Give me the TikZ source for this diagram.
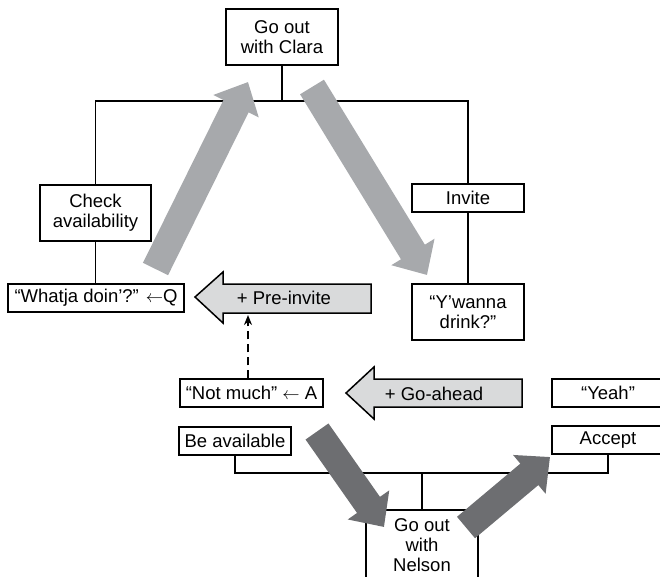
\documentclass[tikz,border=0pt]{standalone}
\usepackage{fontspec}
\setmainfont{Liberation Sans}
\usetikzlibrary{arrows.meta}

\definecolor{lightarrow}{HTML}{A7A9AC}
\definecolor{darkarrow}{HTML}{6D6E71}
\definecolor{blockfill}{HTML}{D9DADB}

\tikzset{
  box/.style={draw, line width=1.5pt, inner sep=0pt, align=center,
    minimum width=112pt, minimum height=28pt},
  tall/.style={box, minimum height=56pt},
  tree/.style={line width=1.5pt},
  bigarrow/.style={line width=28pt, -{Triangle[length=27pt,width=49pt]}},
  blockarrow/.style={fill=blockfill, draw, line width=1.5pt, line join=miter}
}

\begin{document}
\begin{tikzpicture}[x=1pt, y=-1pt, font=\fontsize{18.5}{20}\selectfont]
  \useasboundingbox (0,0) rectangle (660,576);
  \clip (0,0) rectangle (660,576);

  % upper tree
  \node[tall] (clara) at (282,37) {Go out\\with Clara};
  \node[tall, minimum width=111pt] (check) at (95.5,213) {Check\\availability};
  \node[box, minimum width=176pt] (whatja) at (96,298) {“Whatja doin’?” $\leftarrow$Q};
  \node[box] (invite) at (468,198) {Invite};
  \node[tall] (ywanna) at (468,312) {“Y’wanna\\drink?”};
  \coordinate (top) at (282,101);
  \draw[tree] (clara.south) -- (top);
  \draw[tree] (check.north) |- (top) -| (invite.north);
  \draw[tree] (check.south) -- (check.south |- whatja.north);
  \draw[tree] (invite.south) -- (ywanna.north);

  % lower tree
  \node[box, minimum width=143pt] (notmuch) at (251.5,393) {“Not much” $\leftarrow$ A};
  \node[box] (beavail) at (235,441) {Be available};
  \node[box] (yeah) at (608,393) {“Yeah”};
  \node[box] (accept) at (608,440) {Accept};
  \node[box, minimum height=70pt] (nelson) at (422,545) {Go out\\with\\Nelson};
  \coordinate (bot) at (422,473);
  \draw[tree] (nelson.north) -- (bot);
  \draw[tree] (beavail.south) |- (bot) -| (accept.south);

  % block arrows
  \filldraw[blockarrow] (195,297) -- (223,272) -- (223,284) -- (371,284) -- (371,313)
    -- (223,313) -- (223,323) -- cycle;
  \node (preinvite) at (284,298) {+ Pre-invite};
  \filldraw[blockarrow] (346,393) -- (374,367) -- (374,379) -- (522,379) -- (522,407)
    -- (374,407) -- (374,419) -- cycle;
  \node (goahead) at (434,394) {+ Go-ahead};

  \coordinate (pre) at (248,315);
  \draw[line width=2pt, dash pattern=on 8pt off 5pt, -{Stealth[length=10pt,width=8pt]}]
    (notmuch.north -| pre) -- (pre);

  % big arrows
  \coordinate (t1) at (155.5,269); \coordinate (h1) at (248,82);
  \coordinate (t2) at (312,87);    \coordinate (h2) at (427,275);
  \coordinate (t3) at (317,431.5); \coordinate (h3) at (384,527);
  \coordinate (t4) at (466,527.5); \coordinate (h4) at (550,457);
  \draw[bigarrow, lightarrow] (t1) -- (h1);
  \draw[bigarrow, lightarrow] (t2) -- (h2);
  \draw[bigarrow, darkarrow] (t3) -- (h3);
  \draw[bigarrow, darkarrow] (t4) -- (h4);
\end{tikzpicture}
\end{document}
